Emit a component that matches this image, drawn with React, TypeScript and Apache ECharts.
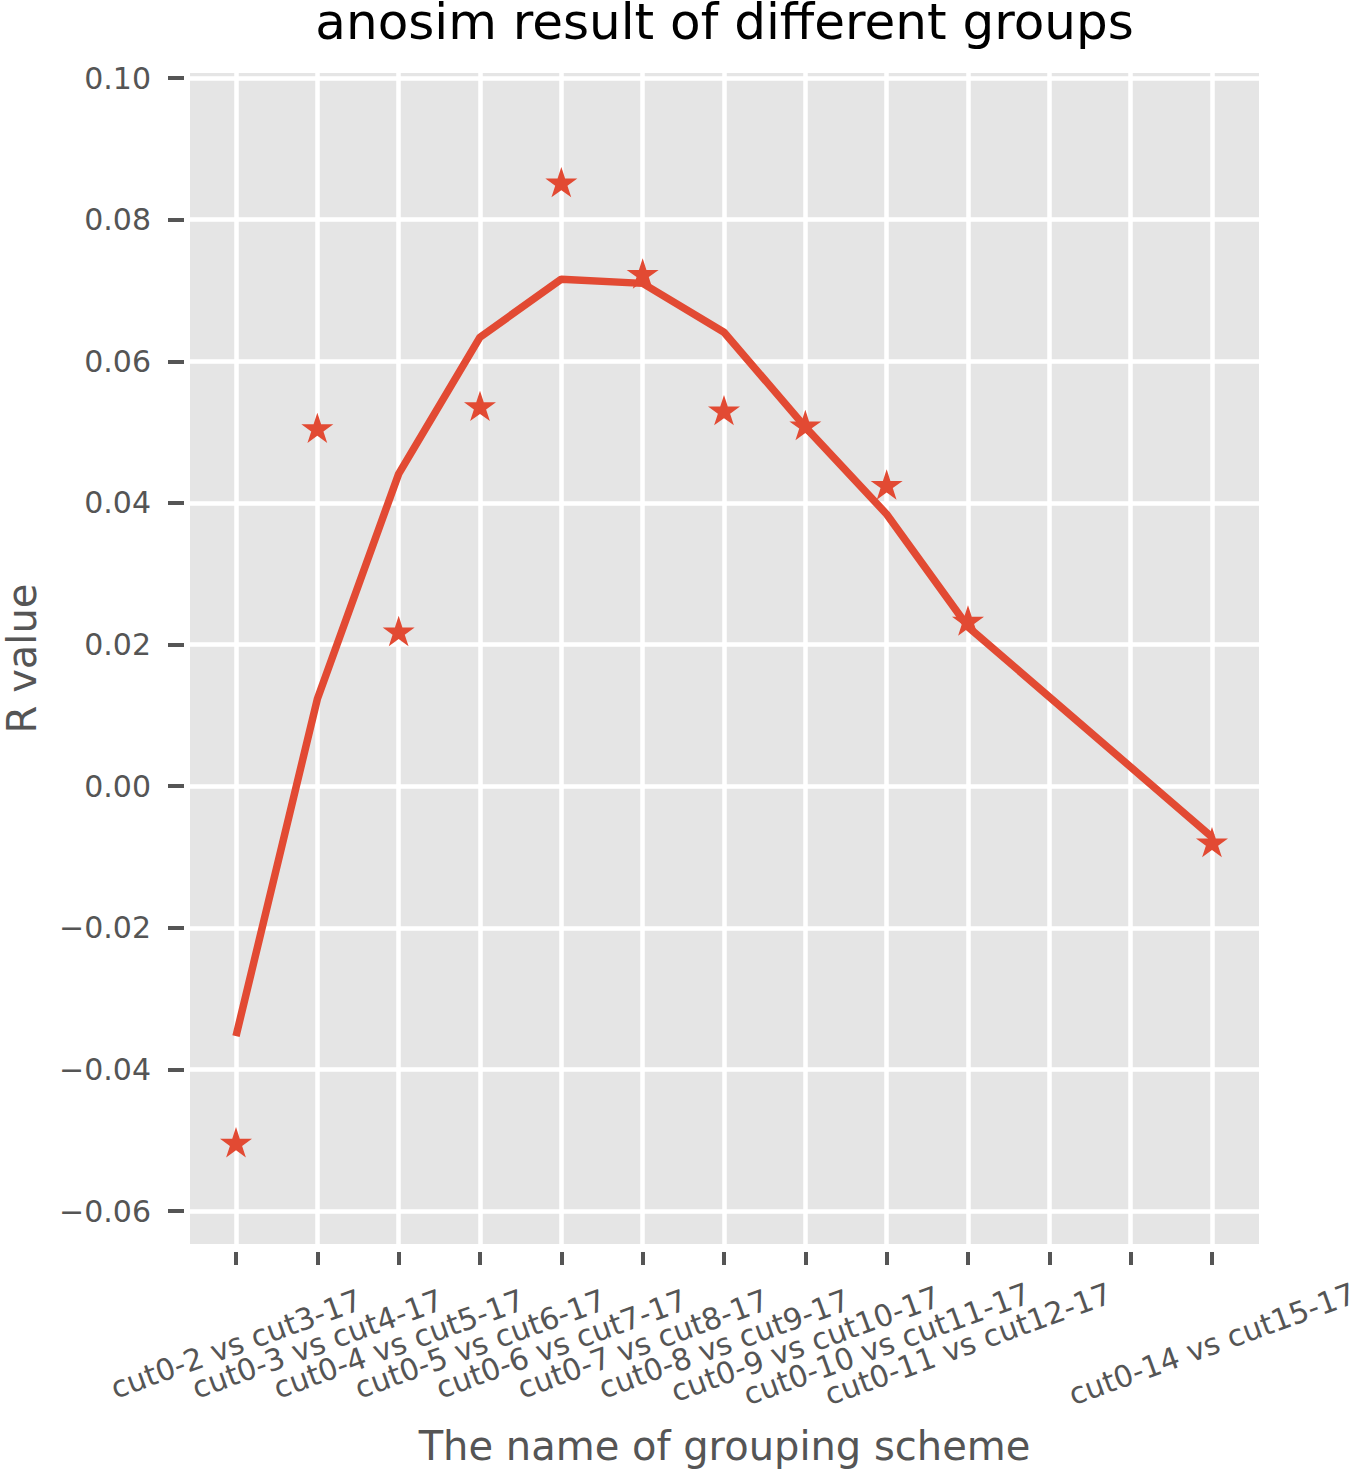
import React, { useEffect, useRef } from 'react';
import * as echarts from 'echarts';

// ---- data ----
const X_MIN = -0.5656;
const X_MAX = 12.578;
const tickPositions = [0, 1, 2, 3, 4, 5, 6, 7, 8, 9, 10, 11, 12];
const labelPositions = [0, 1, 2, 3, 4, 5, 6, 7, 8, 9, 12];
const categories = [
  'cut0-2 vs cut3-17',
  'cut0-3 vs cut4-17',
  'cut0-4 vs cut5-17',
  'cut0-5 vs cut6-17',
  'cut0-6 vs cut7-17',
  'cut0-7 vs cut8-17',
  'cut0-8 vs cut9-17',
  'cut0-9 vs cut10-17',
  'cut0-10 vs cut11-17',
  'cut0-11 vs cut12-17',
  'cut0-14 vs cut15-17',
];
const observedR = [-0.0503, 0.0506, 0.0219, 0.0537, 0.0853, 0.0724, 0.0531, 0.051, 0.0426, 0.0234, -0.0079];
const fittedR = [-0.0353, 0.0123, 0.0441, 0.0634, 0.0716, 0.071, 0.0641, 0.0507, 0.0384, 0.0225, -0.0072];
const yTicks = [-0.06, -0.04, -0.02, 0, 0.02, 0.04, 0.06, 0.08, 0.1];

const COLOR = '#E24A33';
const TEXT = '#555555';
const FONT = 'DejaVu Sans';

// star marker shape (regular five-point star, like matplotlib '*')
function starSymbol(): string {
  const pts: string[] = [];
  const inner = 0.381966;
  for (let i = 0; i < 10; i++) {
    const r = i % 2 === 0 ? 1 : inner;
    const a = -Math.PI / 2 + (i * Math.PI) / 5;
    pts.push(`${(r * Math.cos(a)).toFixed(4)} ${(r * Math.sin(a)).toFixed(4)}`);
  }
  return 'path://M' + pts.join(' L') + ' Z';
}

export default function App() {
  const ref = useRef<HTMLDivElement>(null);

  useEffect(() => {
    if (!ref.current) return;
    const chart = echarts.init(ref.current, undefined, { renderer: 'svg' });
    const lineData = labelPositions.map((x, i) => [x, fittedR[i]]);
    const starData = labelPositions.map((x, i) => [x, observedR[i]]);
    const fmtY = (v: number) => {
      const s = Math.abs(v).toFixed(2);
      return v < -1e-9 ? '\u2212' + s : s;
    };
    // empty placeholder labels at the axis ends so that min/max label hiding never hits a real label
    const xLabelValues = [X_MIN, ...labelPositions, X_MAX];
    chart.setOption({
      animation: false,
      backgroundColor: '#ffffff',
      title: {
        text: 'anosim result of different groups',
        left: 724.5,
        top: -3,
        padding: 0,
        textAlign: 'center',
        textStyle: { fontFamily: FONT, fontSize: 50, fontWeight: 'normal', color: '#000000' },
      },
      grid: {
        left: 190,
        top: 73,
        width: 1069,
        height: 1171,
        show: true,
        backgroundColor: '#E5E5E5',
        borderWidth: 0,
        containLabel: false,
        outerBoundsMode: 'none',
      },
      xAxis: {
        type: 'value',
        min: X_MIN,
        max: X_MAX,
        offset: 8,
        name: 'The name of grouping scheme',
        nameLocation: 'middle',
        nameGap: 174,
        nameTextStyle: { fontFamily: FONT, fontSize: 40, color: TEXT },
        axisLine: { show: false, onZero: false },
        axisTick: {
          show: true,
          customValues: tickPositions,
          length: 13,
          lineStyle: { color: TEXT, width: 4 },
        },
        axisLabel: {
          customValues: xLabelValues,
          formatter: (v: number) => {
            if (Math.abs(v - Math.round(v)) > 1e-6) return '';
            const i = labelPositions.indexOf(Math.round(v));
            return i >= 0 ? categories[i] : '';
          },
          showMinLabel: false,
          showMaxLabel: false,
          hideOverlap: false,
          rotate: 20,
          align: 'center',
          verticalAlign: 'middle',
          margin: 92,
          fontFamily: FONT,
          fontSize: 30,
          color: TEXT,
        },
        splitLine: { show: true, lineStyle: { color: '#ffffff', width: 4.5 } },
      },
      yAxis: {
        type: 'value',
        min: -0.06466,
        max: 0.10071,
        offset: 6,
        name: 'R value',
        nameLocation: 'middle',
        nameRotate: 90,
        nameGap: 142,
        nameTextStyle: { fontFamily: FONT, fontSize: 40, color: TEXT },
        axisLine: { show: false, onZero: false },
        axisTick: {
          show: true,
          customValues: yTicks,
          length: 16,
          lineStyle: { color: TEXT, width: 4 },
        },
        axisLabel: {
          customValues: yTicks,
          formatter: fmtY,
          showMinLabel: true,
          showMaxLabel: true,
          margin: 33,
          fontFamily: FONT,
          fontSize: 30,
          color: TEXT,
        },
        splitLine: { show: true, lineStyle: { color: '#ffffff', width: 4.5 } },
      },
      series: [
        {
          type: 'line',
          data: lineData,
          showSymbol: false,
          symbol: 'none',
          lineStyle: { color: COLOR, width: 7.5 },
          itemStyle: { color: COLOR },
          z: 3,
        },
        {
          type: 'scatter',
          data: starData,
          symbol: starSymbol(),
          symbolSize: [32, 30.4],
          itemStyle: { color: COLOR, opacity: 1 },
          z: 4,
        },
      ],
    });
    return () => chart.dispose();
  }, []);

  return (
    <div
      ref={ref}
      style={{ position: 'absolute', left: 0, top: 0, width: 1350, height: 1474 }}
    />
  );
}
